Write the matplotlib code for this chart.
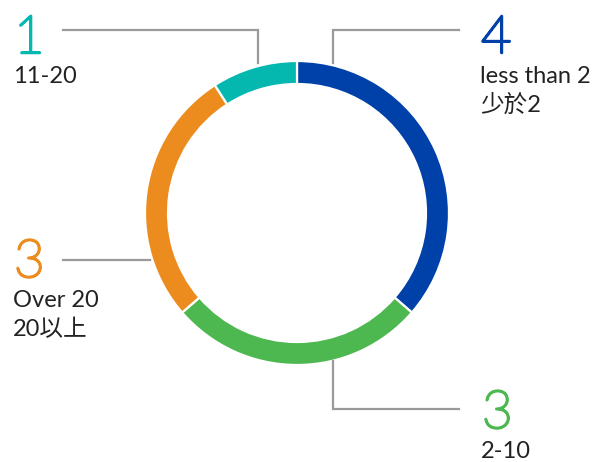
import matplotlib
matplotlib.use('Agg')
import matplotlib.pyplot as plt
import matplotlib.patheffects as pe

counts = [4, 3, 3, 1]
labels_en = ['less than 2', '2-10', 'Over 20', '11-20']
labels_zh = ['少於2', '', '20以上', '']
colors = ['#0041A9', '#4DB850', '#EC8C1F', '#04B7AF']

fonts = ['Lato', 'Noto Sans CJK TC', 'DejaVu Sans']
H = 462

fig = plt.figure(figsize=(5.99, 4.62), dpi=100)
ax = fig.add_axes([0, 0, 1, 1])
ax.set_xlim(0, 599)
ax.set_ylim(0, H)
ax.set_aspect('equal')
ax.axis('off')

# donut
ax.pie(counts, colors=colors, startangle=90, counterclock=False,
       center=(297, H - 213), radius=152,
       wedgeprops=dict(width=23, edgecolor='white', linewidth=1.6))
ax.set_xlim(0, 599)
ax.set_ylim(0, H)

# leader lines (pixel coords, y from top)
leaders = [
    [(258, 63), (258, 30), (63, 30)],
    [(333, 63), (333, 30), (459, 30)],
    [(150, 260), (63, 260)],
    [(333, 361), (333, 409), (459, 409)],
]
for pts in leaders:
    ax.plot([p[0] for p in pts], [H - p[1] for p in pts], color='#9a9a9a',
            lw=1.6, solid_joinstyle='miter', zorder=1)

# number + label positions: (x, number baseline)
pos = [(481, 53), (482, 428), (14, 277), (14, 53)]
for i, (x, yb) in enumerate(pos):
    ax.text(x, H - yb, str(counts[i]), color=colors[i], fontsize=38,
            family=fonts, fontweight='light', va='baseline', ha='left',
            path_effects=[pe.withStroke(linewidth=1.8, foreground=colors[i])])
    ax.text(x - 1, H - (yb + 30), labels_en[i], color='#222222', fontsize=17,
            family=fonts, va='baseline', ha='left')
    if labels_zh[i]:
        ax.text(x - 1, H - (yb + 59), labels_zh[i], color='#222222', fontsize=17,
                family=fonts, va='baseline', ha='left')

fig.savefig('out.png', dpi=100)
